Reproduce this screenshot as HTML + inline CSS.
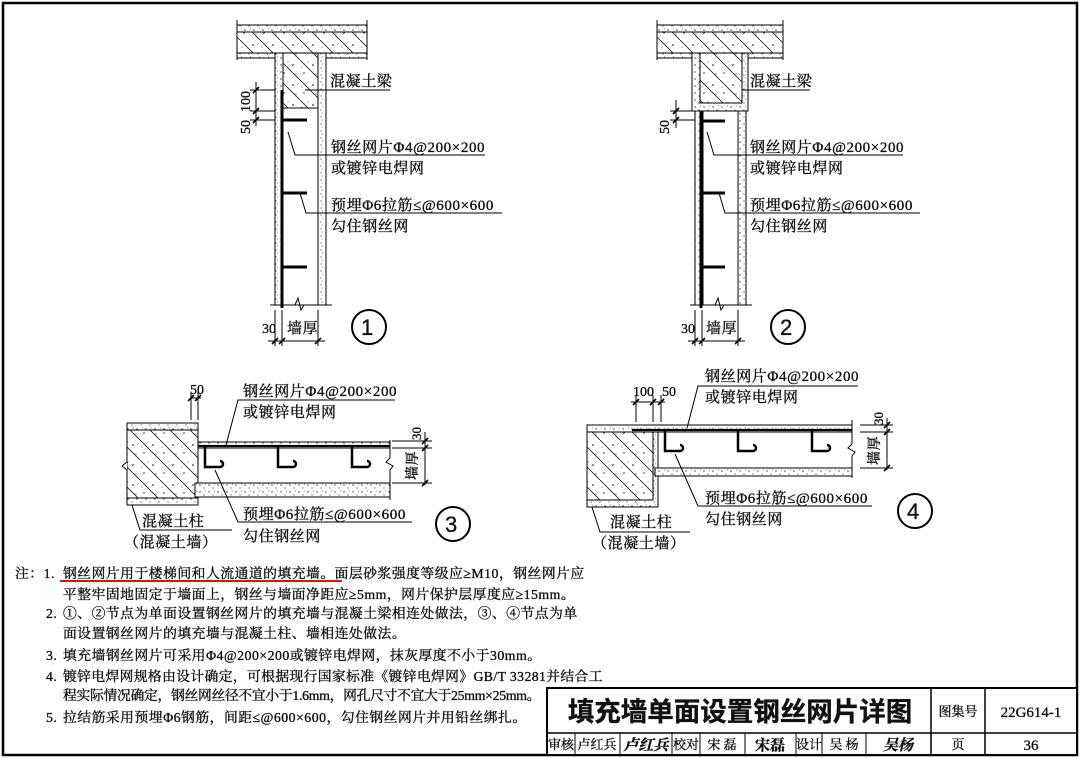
<!DOCTYPE html>
<html><head><meta charset="utf-8"><style>
html,body{margin:0;padding:0;background:#fff;}
svg{display:block;}
text{font-family:"Liberation Serif","Noto Serif CJK SC","Noto Sans CJK SC",serif;fill:#111;stroke:#111;stroke-width:0.35;}
.s{font-family:"Liberation Sans","Noto Sans CJK SC",sans-serif;}
</style></head><body>
<svg width="1080" height="758" viewBox="0 0 1080 758" xmlns="http://www.w3.org/2000/svg">
<defs>
<pattern id="dots" width="9" height="7" patternUnits="userSpaceOnUse">
<rect width="9" height="7" fill="#fff"/>
<circle cx="2" cy="2" r="0.7" fill="#333"/><circle cx="6" cy="5" r="0.6" fill="#444"/><circle cx="7.5" cy="1" r="0.5" fill="#555"/>
</pattern>
<pattern id="conc" width="20" height="20" patternUnits="userSpaceOnUse">
<rect width="20" height="20" fill="#fff"/>
<line x1="0" y1="0" x2="20" y2="20" stroke="#222" stroke-width="0.9"/>
<circle cx="4" cy="13" r="0.8" fill="#333"/><circle cx="13" cy="5" r="0.9" fill="#333"/><circle cx="16" cy="14" r="0.6" fill="#444"/><circle cx="8" cy="2" r="0.5" fill="#444"/><circle cx="2" cy="7" r="0.5" fill="#444"/>
</pattern>
<g id="tick"><line x1="-3" y1="3" x2="3" y2="-3" stroke="#000" stroke-width="1.6"/></g>
</defs>
<rect x="0" y="0" width="1080" height="758" fill="#fff"/>
<rect x="3" y="3" width="1074" height="752" fill="none" stroke="#000" stroke-width="2.5"/>

<!-- DETAIL 1 -->
<g stroke="#000" stroke-width="1">
<rect x="237" y="25" width="130" height="33" fill="url(#dots)"/>
<rect x="237" y="32" width="130" height="21" fill="url(#conc)"/>
<rect x="275" y="53" width="51" height="252" fill="url(#dots)"/>
<rect x="283" y="53" width="35" height="55" fill="url(#conc)"/>
<rect x="283" y="108" width="35" height="197" fill="#fff"/>
<line x1="237" y1="20" x2="237" y2="60"/><line x1="367" y1="20" x2="367" y2="60"/>
<line x1="270" y1="305" x2="295" y2="305"/><polyline points="295,305 298,298 301,310 304,305 332,305" fill="none"/>
<line x1="282" y1="90" x2="282" y2="308" stroke-width="3"/>
<line x1="282" y1="120" x2="307" y2="120" stroke-width="3"/>
<line x1="282" y1="193" x2="307" y2="193" stroke-width="3"/>
<line x1="282" y1="267" x2="307" y2="267" stroke-width="3"/>
<polyline points="288,132 295,155 485,155" fill="none"/>
<polyline points="300,193 306,213 502,213" fill="none"/>
<line x1="305" y1="90" x2="390" y2="90"/>
<line x1="256" y1="82" x2="256" y2="126"/><line x1="250" y1="90" x2="275" y2="90"/><line x1="250" y1="111" x2="275" y2="111"/><line x1="250" y1="120" x2="275" y2="120"/>
<use href="#tick" x="256" y="90"/><use href="#tick" x="256" y="111"/><use href="#tick" x="256" y="120"/>
<line x1="268" y1="341" x2="325" y2="341"/><line x1="275" y1="310" x2="275" y2="346"/><line x1="282" y1="310" x2="282" y2="346"/><line x1="318" y1="310" x2="318" y2="346"/>
<use href="#tick" x="275" y="341"/><use href="#tick" x="282" y="341"/><use href="#tick" x="318" y="341"/>
<circle cx="369" cy="327" r="17" fill="none" stroke-width="2"/>
</g>
<g font-size="15" letter-spacing="0.6">
<text x="330" y="86">混凝土梁</text>
<text x="331" y="152">钢丝网片Φ4@200×200</text>
<text x="331" y="173">或镀锌电焊网</text>
<text x="331" y="210">预埋Φ6拉筋≤@600×600</text>
<text x="331" y="231">勾住钢丝网</text>
<text x="262" y="333" font-size="14" letter-spacing="0">30</text><text x="287" y="333">墙厚</text>
<text transform="translate(250,112) rotate(-90)" font-size="14" letter-spacing="0">100</text>
<text transform="translate(250,134) rotate(-90)" font-size="14" letter-spacing="0">50</text>
<text x="361" y="335" font-size="22" class="s">1</text>
</g>

<!-- DETAIL 2 -->
<g stroke="#000" stroke-width="1">
<rect x="657" y="25" width="126" height="33" fill="url(#dots)"/>
<rect x="657" y="32" width="126" height="21" fill="url(#conc)"/>
<rect x="692" y="53" width="56" height="58" fill="url(#dots)"/>
<rect x="700" y="53" width="42" height="50" fill="url(#conc)"/>
<rect x="695" y="111" width="51" height="194" fill="url(#dots)"/>
<rect x="703" y="111" width="35" height="194" fill="#fff"/>
<line x1="657" y1="20" x2="657" y2="60"/><line x1="783" y1="20" x2="783" y2="60"/>
<line x1="690" y1="305" x2="715" y2="305"/><polyline points="715,305 718,298 721,310 724,305 752,305" fill="none"/>
<line x1="701" y1="111" x2="701" y2="308" stroke-width="3"/>
<line x1="701" y1="121" x2="725" y2="121" stroke-width="3"/>
<line x1="701" y1="193" x2="725" y2="193" stroke-width="3"/>
<line x1="701" y1="267" x2="725" y2="267" stroke-width="3"/>
<polyline points="707,132 714,155 903,155" fill="none"/>
<polyline points="719,193 725,213 920,213" fill="none"/>
<line x1="742" y1="90" x2="810" y2="90"/>
<line x1="676" y1="100" x2="676" y2="128"/><line x1="670" y1="111" x2="695" y2="111"/><line x1="670" y1="120" x2="695" y2="120"/>
<use href="#tick" x="676" y="111"/><use href="#tick" x="676" y="120"/>
<line x1="688" y1="341" x2="745" y2="341"/><line x1="695" y1="310" x2="695" y2="346"/><line x1="702" y1="310" x2="702" y2="346"/><line x1="738" y1="310" x2="738" y2="346"/>
<use href="#tick" x="695" y="341"/><use href="#tick" x="702" y="341"/><use href="#tick" x="738" y="341"/>
<circle cx="788" cy="327" r="17" fill="none" stroke-width="2"/>
</g>
<g font-size="15" letter-spacing="0.6">
<text x="750" y="86">混凝土梁</text>
<text x="750" y="152">钢丝网片Φ4@200×200</text>
<text x="750" y="173">或镀锌电焊网</text>
<text x="750" y="210">预埋Φ6拉筋≤@600×600</text>
<text x="750" y="231">勾住钢丝网</text>
<text x="681" y="333" font-size="14" letter-spacing="0">30</text><text x="706" y="333">墙厚</text>
<text transform="translate(669,134) rotate(-90)" font-size="14" letter-spacing="0">50</text>
<text x="780" y="335" font-size="22" class="s">2</text>
</g>

<!-- DETAIL 3 -->
<g stroke="#000" stroke-width="1">
<rect x="127" y="423" width="71" height="82" fill="url(#dots)"/>
<rect x="127" y="430" width="71" height="68" fill="url(#conc)"/>
<polyline points="127,462 122,466 127,470" fill="#fff"/>
<rect x="198" y="442" width="192" height="6" fill="url(#dots)"/>
<rect x="195" y="483" width="195" height="14" fill="url(#dots)"/>
<line x1="198" y1="446" x2="390" y2="446" stroke-width="2.2"/>
<line x1="390" y1="440" x2="390" y2="458"/><polyline points="390,458 386,462 393,466 390,470 390,500" fill="none"/>
<path d="M205,447 V467 H220 a3,3 0 1,0 0,-6" fill="none" stroke-width="2.5"/>
<path d="M278,447 V467 H293 a3,3 0 1,0 0,-6" fill="none" stroke-width="2.5"/>
<path d="M352,447 V467 H367 a3,3 0 1,0 0,-6" fill="none" stroke-width="2.5"/>
<polyline points="226,445 238,400 395,400" fill="none"/>
<polyline points="215,470 238,522 412,522" fill="none"/>
<polyline points="132,505 140,530 232,530" fill="none"/>
<line x1="190" y1="398" x2="201" y2="398"/><line x1="191" y1="392" x2="191" y2="420"/><line x1="198" y1="392" x2="198" y2="420"/>
<use href="#tick" x="191" y="398"/><use href="#tick" x="198" y="398"/>
<line x1="425" y1="432" x2="425" y2="485"/><line x1="392" y1="441" x2="432" y2="441"/><line x1="392" y1="448" x2="432" y2="448"/><line x1="392" y1="483" x2="432" y2="483"/>
<use href="#tick" x="425" y="441"/><use href="#tick" x="425" y="448"/><use href="#tick" x="425" y="483"/>
<circle cx="453" cy="524" r="17" fill="none" stroke-width="2"/>
</g>
<g font-size="15" letter-spacing="0.6">
<text x="190" y="394" font-size="14" letter-spacing="0">50</text>
<text x="243" y="396">钢丝网片Φ4@200×200</text>
<text x="243" y="417">或镀锌电焊网</text>
<text x="243" y="519">预埋Φ6拉筋≤@600×600</text>
<text x="243" y="541">勾住钢丝网</text>
<text x="142" y="526">混凝土柱</text>
<text x="124" y="547">（混凝土墙）</text>
<text transform="translate(421,440) rotate(-90)" font-size="13" letter-spacing="0">30</text>
<text transform="translate(417,480) rotate(-90)" font-size="14">墙厚</text>
<text x="445" y="532" font-size="22" class="s">3</text>
</g>

<!-- DETAIL 4 -->
<g stroke="#000" stroke-width="1">
<rect x="587" y="425" width="71" height="82" fill="url(#dots)"/>
<rect x="587" y="432" width="66" height="68" fill="url(#conc)"/>
<rect x="587" y="425" width="265" height="7" fill="url(#dots)"/>
<rect x="655" y="468" width="197" height="8" fill="url(#dots)"/>
<line x1="632" y1="430" x2="852" y2="430" stroke-width="2.2"/>
<line x1="852" y1="420" x2="852" y2="444"/><polyline points="852,444 848,448 855,452 852,456 852,478" fill="none"/>
<path d="M665,431 V451 H680 a3,3 0 1,0 0,-6" fill="none" stroke-width="2.5"/>
<path d="M738,431 V451 H753 a3,3 0 1,0 0,-6" fill="none" stroke-width="2.5"/>
<path d="M812,431 V451 H827 a3,3 0 1,0 0,-6" fill="none" stroke-width="2.5"/>
<polyline points="687,428 698,386 858,386" fill="none"/>
<polyline points="675,454 698,506 872,506" fill="none"/>
<polyline points="592,507 600,532 690,532" fill="none"/>
<line x1="631" y1="402" x2="665" y2="402"/><line x1="636" y1="395" x2="636" y2="422"/><line x1="653" y1="395" x2="653" y2="422"/><line x1="661" y1="395" x2="661" y2="422"/>
<use href="#tick" x="636" y="402"/><use href="#tick" x="653" y="402"/><use href="#tick" x="661" y="402"/>
<line x1="887" y1="418" x2="887" y2="470"/><line x1="860" y1="425" x2="893" y2="425"/><line x1="860" y1="432" x2="893" y2="432"/><line x1="860" y1="468" x2="893" y2="468"/>
<use href="#tick" x="887" y="425"/><use href="#tick" x="887" y="432"/><use href="#tick" x="887" y="468"/>
<circle cx="915" cy="511" r="17" fill="none" stroke-width="2"/>
</g>
<g font-size="15" letter-spacing="0.6">
<text x="633" y="396" font-size="14" letter-spacing="0">100</text><text x="662" y="396" font-size="14" letter-spacing="0">50</text>
<text x="705" y="381">钢丝网片Φ4@200×200</text>
<text x="705" y="402">或镀锌电焊网</text>
<text x="705" y="503">预埋Φ6拉筋≤@600×600</text>
<text x="705" y="524">勾住钢丝网</text>
<text x="610" y="527">混凝土柱</text>
<text x="592" y="548">（混凝土墙）</text>
<text transform="translate(883,425) rotate(-90)" font-size="13" letter-spacing="0">30</text>
<text transform="translate(879,465) rotate(-90)" font-size="14">墙厚</text>
<text x="907" y="519" font-size="22" class="s">4</text>
</g>

<!-- NOTES -->
<g font-size="13.8" letter-spacing="0.5">
<text x="15" y="578">注：1.</text>
<text x="63" y="578">钢丝网片用于楼梯间和人流通道的填充墙。面层砂浆强度等级应≥M10，钢丝网片应</text>
<text x="63" y="599">平整牢固地固定于墙面上，钢丝与墙面净距应≥5mm，网片保护层厚度应≥15mm。</text>
<text x="46" y="618">2.</text><text x="63" y="618">①、②节点为单面设置钢丝网片的填充墙与混凝土梁相连处做法，③、④节点为单</text>
<text x="63" y="638">面设置钢丝网片的填充墙与混凝土柱、墙相连处做法。</text>
<text x="46" y="660">3.</text><text x="63" y="660">填充墙钢丝网片可采用Φ4@200×200或镀锌电焊网，抹灰厚度不小于30mm。</text>
<text x="46" y="681">4.</text><text x="63" y="681" textLength="540" lengthAdjust="spacing">镀锌电焊网规格由设计确定，可根据现行国家标准《镀锌电焊网》GB/T 33281并结合工</text>
<text x="63" y="700" textLength="478" lengthAdjust="spacing">程实际情况确定，钢丝网丝径不宜小于1.6mm，网孔尺寸不宜大于25mm×25mm。</text>
<text x="46" y="722">5.</text><text x="63" y="722">拉结筋采用预埋Φ6钢筋，间距≤@600×600，勾住钢丝网片并用铅丝绑扎。</text>
</g>
<line x1="60" y1="581" x2="342" y2="581" stroke="#e01010" stroke-width="2"/>

<!-- TITLE BLOCK -->
<g stroke="#000" fill="none">
<rect x="547" y="688" width="530" height="67" stroke-width="2" fill="#fff"/>
<line x1="547" y1="733" x2="1077" y2="733" stroke-width="1.5"/>
<line x1="931" y1="688" x2="931" y2="755" stroke-width="1.5"/>
<line x1="985" y1="688" x2="985" y2="755" stroke-width="1.5"/>
<g stroke-width="1">
<line x1="575" y1="733" x2="575" y2="755"/><line x1="620" y1="733" x2="620" y2="755"/><line x1="672" y1="733" x2="672" y2="755"/><line x1="700" y1="733" x2="700" y2="755"/><line x1="745" y1="733" x2="745" y2="755"/><line x1="796" y1="733" x2="796" y2="755"/><line x1="822" y1="733" x2="822" y2="755"/><line x1="866" y1="733" x2="866" y2="755"/>
</g>
</g>
<text x="740" y="721" font-size="26.5" font-weight="bold" text-anchor="middle" class="s">填充墙单面设置钢丝网片详图</text>
<g font-size="13" text-anchor="middle">
<text x="958" y="716">图集号</text>
<text x="1031" y="717" font-size="15">22G614-1</text>
<text x="561" y="749">审核</text><text x="597" y="749">卢红兵</text>
<text x="646" y="750" font-size="15" font-style="italic" font-weight="bold">卢红兵</text>
<text x="686" y="749">校对</text><text x="722" y="749">宋 磊</text>
<text x="770" y="750" font-size="15" font-weight="bold">宋磊</text>
<text x="809" y="749">设计</text><text x="844" y="749">吴 杨</text>
<text x="898" y="750" font-size="15" font-style="italic" font-weight="bold">吴杨</text>
<text x="958" y="749">页</text><text x="1031" y="750" font-size="15">36</text>
</g>
</svg>
</body></html>
